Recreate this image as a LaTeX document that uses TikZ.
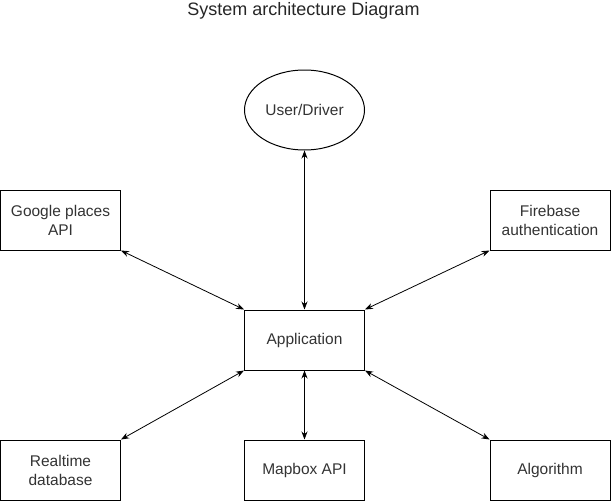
\documentclass[tikz,border=0pt]{standalone}
\usepackage{fontspec}
\setmainfont{Liberation Sans}
\usetikzlibrary{shapes.geometric,arrows.meta}
\begin{document}
\begin{tikzpicture}[x=1pt,y=-1pt,
  box/.style={draw,line width=1pt,minimum width=120pt,minimum height=60pt,inner sep=0pt,align=center,font=\fontsize{15.5pt}{19pt}\selectfont,text=black!80},
  ell/.style={draw,ellipse,line width=1pt,minimum width=120pt,minimum height=80pt,inner sep=0pt,align=center,font=\fontsize{15.5pt}{19pt}\selectfont,text=black!80},
  link/.style={line width=0.8pt,{Stealth[length=8pt,width=6pt]}-{Stealth[length=8pt,width=6pt]}}]
\useasboundingbox (0,0) rectangle (611,501);
\node[anchor=base,font=\fontsize{18pt}{21pt}\selectfont,text=black!85] (title) at (303.5,15) {System architecture Diagram};
\node[ell] (user) at (304.5,110) {User/Driver};
\node[box] (google) at (60.5,220) {Google places\\API};
\node[box] (firebase) at (550,220) {Firebase\\authentication};
\node[box] (app) at (304.5,340) {Application};
\node[box] (realtime) at (60.5,470) {Realtime\\database};
\node[box] (mapbox) at (304.5,470) {Mapbox API};
\node[box] (algo) at (550,470) {Algorithm};
\draw[link] (user.south) -- (app.north);
\draw[link] (google.south east) -- (app.north west);
\draw[link] (firebase.south west) -- (app.north east);
\draw[link] (realtime.north east) -- (app.south west);
\draw[link] (mapbox.north) -- (app.south);
\draw[link] (algo.north west) -- (app.south east);
\end{tikzpicture}
\end{document}
